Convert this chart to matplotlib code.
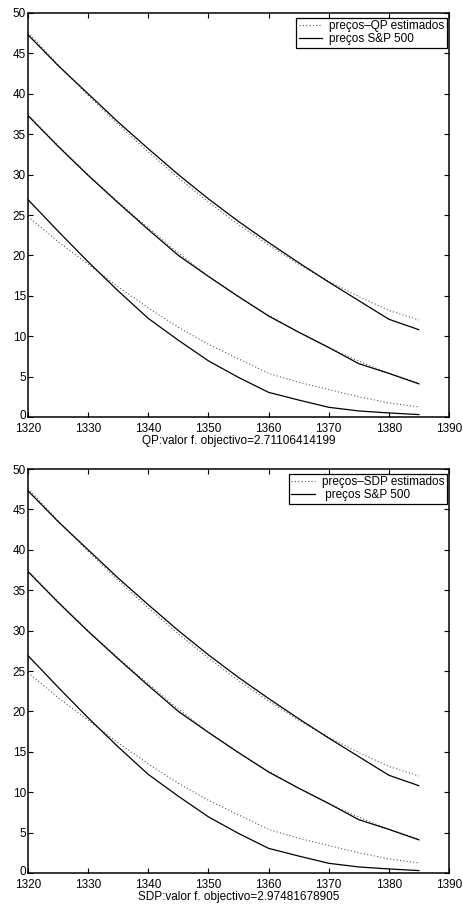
import matplotlib
matplotlib.use("Agg")
import matplotlib.pyplot as plt
from matplotlib.transforms import ScaledTranslation

plt.rcParams['font.family'] = ['Liberation Sans', 'DejaVu Sans']

# strike prices
strikes = [1320, 1325, 1330, 1335, 1340, 1345, 1350, 1355, 1360, 1365, 1370, 1375, 1380, 1385]

# S&P 500 observed prices (three maturities)
sp_a = [47.3, 43.5, 40.0, 36.5, 33.2, 30.0, 27.0, 24.2, 21.6, 19.1, 16.7, 14.4, 12.1, 10.8]
sp_b = [37.3, 33.5, 29.9, 26.5, 23.2, 20.0, 17.4, 14.9, 12.5, 10.5, 8.6, 6.6, 5.4, 4.1]
sp_c = [26.9, 23.0, 19.2, 15.6, 12.2, 9.5, 6.95, 4.9, 3.05, 2.1, 1.2, 0.75, 0.5, 0.3]

# QP estimated prices
qp_a = [47.6, 43.6, 39.8, 36.2, 32.8, 29.6, 26.6, 23.8, 21.3, 18.9, 16.8, 14.9, 13.2, 12.0]
qp_b = [37.4, 33.6, 30.0, 26.6, 23.4, 20.3, 17.4, 14.9, 12.6, 10.5, 8.6, 6.9, 5.4, 4.2]
qp_c = [24.8, 21.7, 18.9, 16.1, 13.5, 11.1, 9.0, 7.2, 5.4, 4.3, 3.4, 2.5, 1.75, 1.25]

# SDP estimated prices
sdp_a = [47.6, 43.6, 39.8, 36.2, 32.8, 29.6, 26.6, 23.8, 21.3, 18.9, 16.8, 14.9, 13.2, 12.0]
sdp_b = [37.4, 33.6, 30.0, 26.6, 23.4, 20.3, 17.4, 14.9, 12.6, 10.5, 8.6, 6.9, 5.4, 4.2]
sdp_c = [24.8, 21.7, 18.9, 16.1, 13.5, 11.1, 9.0, 7.2, 5.4, 4.3, 3.4, 2.5, 1.75, 1.25]

xticks = [1320, 1330, 1340, 1350, 1360, 1370, 1380, 1390]
yticks = [0, 5, 10, 15, 20, 25, 30, 35, 40, 45, 50]

fig = plt.figure(figsize=(4.63, 9.13), dpi=100)
ax1 = fig.add_axes([28 / 463, 1 - 417 / 913, 421 / 463, 404 / 913])
ax2 = fig.add_axes([28 / 463, 1 - 873 / 913, 421 / 463, 404 / 913])


def panel(ax, est, est_label, sp_label, xlabel):
    for i, (e, s) in enumerate(zip(est, [sp_a, sp_b, sp_c])):
        ax.plot(strikes, e, color='0.35', linestyle=(0, (1, 2)), lw=0.8,
                label=est_label if i == 0 else None)
        ax.plot(strikes, s, color='black', lw=0.9,
                label=sp_label if i == 0 else None)
    ax.set_xlim(1320, 1390)
    ax.set_ylim(0, 50)
    ax.set_xticks(xticks)
    ax.set_yticks(yticks)
    ax.tick_params(direction='in', top=True, right=True, length=3.5,
                   width=0.8, labelsize=8.5, pad=4)
    ax.tick_params(axis='y', pad=1.5)
    # lift the "0" a couple of pixels so it clears "1320"
    zero = ax.yaxis.get_major_ticks()[0].label1
    zero.set_transform(zero.get_transform() + ScaledTranslation(0, 2.5 / 100, fig.dpi_scale_trans))
    for sp in ax.spines.values():
        sp.set_linewidth(1.1)
    ax.set_xlabel(xlabel, fontsize=8.5, labelpad=0)
    leg = ax.legend(loc='upper right', bbox_to_anchor=(0.995, 0.988),
                    borderaxespad=0, fontsize=8.5, fancybox=False,
                    edgecolor='black', framealpha=1, handlelength=2.0,
                    handletextpad=0.6, labelspacing=0.1, borderpad=0.2)
    leg.get_frame().set_linewidth(0.9)


panel(ax1, [qp_a, qp_b, qp_c], 'preços\u2013QP estimados', 'preços S&P 500',
      'QP:valor f. objectivo=2.71106414199')
panel(ax2, [sdp_a, sdp_b, sdp_c], 'preços\u2013SDP estimados', ' preços S&P 500',
      'SDP:valor f. objectivo=2.97481678905')

fig.savefig('out.png', dpi=100)
